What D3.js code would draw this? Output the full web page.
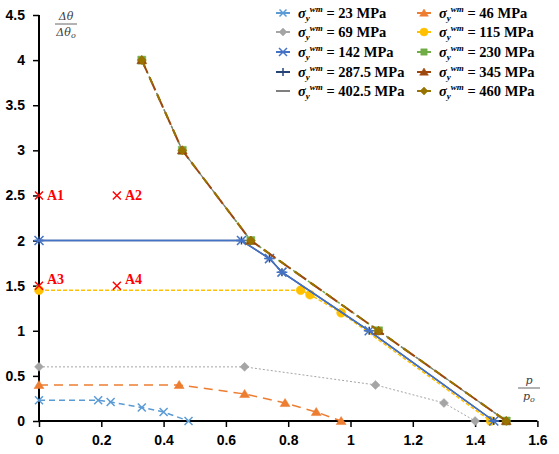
<!DOCTYPE html>
<html>
<head>
<meta charset="utf-8">
<script src="https://cdn.jsdelivr.net/npm/d3@7"></script>
<style>
  body { margin: 0; background: #fff; }
  svg { display: block; }
</style>
</head>
<body>
<div id="chart"></div>
<script>
// Data
const xTicks = [0, 0.2, 0.4, 0.6, 0.8, 1, 1.2, 1.4, 1.6];
const yTicks = [0, 0.5, 1, 1.5, 2, 2.5, 3, 3.5, 4, 4.5];

const s23 = [[0, 0.23], [0.19, 0.23], [0.23, 0.21], [0.33, 0.15], [0.4, 0.1], [0.48, 0]];
const s46 = [[0, 0.4], [0.45, 0.4], [0.66, 0.3], [0.79, 0.2], [0.89, 0.1], [0.97, 0]];
const s69 = [[0, 0.6], [0.66, 0.6], [1.08, 0.4], [1.3, 0.2], [1.4, 0]];
const s115 = [[0, 1.45], [0.84, 1.45], [0.87, 1.4], [0.97, 1.2], [1.45, 0]];
const s142 = [[0, 2], [0.65, 2], [0.74, 1.8], [0.78, 1.65], [1.06, 1], [1.46, 0]];
const s287 = [[0, 2], [0.65, 2], [0.74, 1.8], [0.78, 1.65], [1.06, 1], [1.46, 0]];
const sTop = [[0.33, 4], [0.46, 3], [0.68, 2], [1.09, 1], [1.5, 0]];

const points = [
  { name: 'A1', x: 0, y: 2.5, dy: 5 },
  { name: 'A2', x: 0.25, y: 2.5, dy: 5 },
  { name: 'A3', x: 0, y: 1.5, dy: -2 },
  { name: 'A4', x: 0.25, y: 1.5, dy: -2 }
];

const series = [
  { label: '23', data: s23, color: '#5B9BD5', dash: '6,4', width: 1.5, marker: 'x', col: 0, row: 0 },
  { label: '46', data: s46, color: '#ED7D31', dash: '9,6', width: 1.5, marker: 'triangle', col: 1, row: 0 },
  { label: '69', data: s69, color: '#A5A5A5', dash: '2,2', width: 1, marker: 'diamond', col: 0, row: 1 },
  { label: '115', data: s115, color: '#FFC000', dash: '4,2', width: 1.5, marker: 'circle', col: 1, row: 1 },
  { label: '287.5', data: s287, color: '#264478', dash: null, width: 1.5, marker: 'plus', col: 0, row: 3 },
  { label: '142', data: s142, color: '#4472C4', dash: null, width: 1.5, marker: 'asterisk', col: 0, row: 2 },
  { label: '230', data: sTop, color: '#70AD47', dash: '3,3', width: 1.5, marker: 'square', col: 1, row: 2 },
  { label: '402.5', data: sTop, color: '#7F7F7F', dash: '8,10', width: 1.2, marker: null, col: 0, row: 4 },
  { label: '345', data: sTop, color: '#9E480E', dash: '14,5', width: 2, marker: 'triangle', col: 1, row: 3 },
  { label: '460', data: sTop, color: '#997300', dash: '7,12', width: 2, marker: 'diamond', col: 1, row: 4 }
];

const W = 559, H = 454;
const svg = d3.select('#chart').append('svg').attr('width', W).attr('height', H);

const x = d3.scaleLinear().domain([0, 1.6]).range([39, 537.4]);
const y = d3.scaleLinear().domain([0, 4.5]).range([421, 15]);

// marker shapes
function markerPath(type, r) {
  switch (type) {
    case 'x': return `M${-r},${-r}L${r},${r}M${-r},${r}L${r},${-r}`;
    case 'plus': return `M${-r},0L${r},0M0,${-r}L0,${r}`;
    case 'asterisk': return `M${-r},${-r}L${r},${r}M${-r},${r}L${r},${-r}M${-r * 1.2},0L${r * 1.2},0`;
    case 'triangle': return `M0,${-r}L${r * 1.1},${r * 0.8}L${-r * 1.1},${r * 0.8}Z`;
    case 'diamond': return `M0,${-r}L${r},0L0,${r}L${-r},0Z`;
    case 'square': return `M${-r * 0.8},${-r * 0.8}H${r * 0.8}V${r * 0.8}H${-r * 0.8}Z`;
    case 'circle': return d3.symbol(d3.symbolCircle, Math.PI * r * r)();
  }
  return '';
}
const stroked = t => t === 'x' || t === 'plus' || t === 'asterisk';
const markerSize = { x: 4, plus: 4, asterisk: 4.5, triangle: 4.5, diamond: 4.5, square: 5, circle: 4.5 };

function drawMarker(g, type, color, cx, cy, r) {
  if (!type) return;
  g.append('path')
    .attr('transform', `translate(${cx},${cy})`)
    .attr('d', markerPath(type, r))
    .attr('fill', stroked(type) ? 'none' : color)
    .attr('stroke', color)
    .attr('stroke-width', stroked(type) ? 1.5 : 0.5);
}

// axes
const xAxis = svg.append('g')
  .attr('transform', `translate(0,${y(0)})`)
  .call(d3.axisBottom(x).tickValues(xTicks).tickSize(6).tickPadding(6).tickFormat(d3.format('~g')));
const yAxis = svg.append('g')
  .attr('transform', `translate(${x(0)},0)`)
  .call(d3.axisLeft(y).tickValues(yTicks).tickSize(6).tickPadding(8).tickFormat(d3.format('~g')));

[xAxis, yAxis].forEach(a => {
  a.select('.domain').attr('stroke', '#000').attr('stroke-width', 2);
  a.selectAll('.tick line').attr('stroke', '#000').attr('stroke-width', 1.5);
  a.selectAll('.tick text')
    .attr('fill', '#000')
    .style('font-family', '"Liberation Sans", Arial, sans-serif')
    .style('font-weight', 'bold')
    .style('font-size', '14px');
});
xAxis.selectAll('.tick text').attr('dy', '0.85em');
xAxis.select('.domain').attr('d', `M${x(0)},0H${x(1.6)}`);
yAxis.select('.domain').attr('d', `M0,${y(0)}V${y(4.5)}`);

// series lines and markers
const line = d3.line().x(d => x(d[0])).y(d => y(d[1]));
const plot = svg.append('g');
series.forEach(s => {
  plot.append('path')
    .datum(s.data)
    .attr('d', line)
    .attr('fill', 'none')
    .attr('stroke', s.color)
    .attr('stroke-width', s.width)
    .attr('stroke-dasharray', s.dash);
  s.data.forEach(d => drawMarker(plot, s.marker, s.color, x(d[0]), y(d[1]), markerSize[s.marker]));
});

// red points A1..A4
const red = '#FF0000';
points.forEach(p => {
  drawMarker(svg, 'x', red, x(p.x), y(p.y), 4);
  svg.append('text')
    .attr('x', x(p.x) + 8)
    .attr('y', y(p.y) + p.dy)
    .attr('fill', red)
    .style('font-family', '"Liberation Serif", "Times New Roman", serif')
    .style('font-weight', 'bold')
    .style('font-size', '14px')
    .text(p.name);
});

// legend
const legend = svg.append('g');
const colX = [283, 424];
const rowY = [13, 32, 52, 72, 91];
series.forEach(s => {
  const cx = colX[s.col], cy = rowY[s.row];
  legend.append('line')
    .attr('x1', cx - 7).attr('x2', cx + 7).attr('y1', cy).attr('y2', cy)
    .attr('stroke', s.color).attr('stroke-width', 2);
  drawMarker(legend, s.marker, s.color, cx, cy, s.marker === 'x' ? 3.5 : 4);
  const t = legend.append('text')
    .attr('x', cx + 15)
    .attr('y', cy + 5)
    .attr('fill', '#000')
    .style('font-family', '"Liberation Serif", "Times New Roman", serif')
    .style('font-weight', 'bold')
    .style('font-size', '14.5px');
  t.append('tspan').style('font-style', 'italic').text('σ');
  t.append('tspan').style('font-style', 'italic').style('font-size', '9px').attr('dy', 3).text('y');
  t.append('tspan').style('font-style', 'italic').style('font-size', '9px').attr('dy', -9).text('wm');
  t.append('tspan').attr('dy', 6).text(` = ${s.label} MPa`);
});

// axis titles as fractions
function fraction(cx, topY, num, den, sub) {
  const g = svg.append('g')
    .style('font-family', '"DejaVu Serif", "Liberation Serif", serif')
    .style('font-style', 'italic')
    .style('font-size', '11px')
    .attr('fill', '#404040');
  g.append('text').attr('x', cx).attr('y', topY).attr('text-anchor', 'middle').text(num);
  g.append('line')
    .attr('x1', cx - 11).attr('x2', cx + 11)
    .attr('y1', topY + 4).attr('y2', topY + 4)
    .attr('stroke', '#404040').attr('stroke-width', 0.8);
  const d = g.append('text').attr('x', cx).attr('y', topY + 16).attr('text-anchor', 'middle').text(den);
  d.append('tspan').style('font-size', '8px').attr('dy', 2).text(sub);
}
fraction(66, 20, 'Δθ', 'Δθ', 'o');
fraction(529, 384, 'p', 'p', 'o');
</script>
</body>
</html>
